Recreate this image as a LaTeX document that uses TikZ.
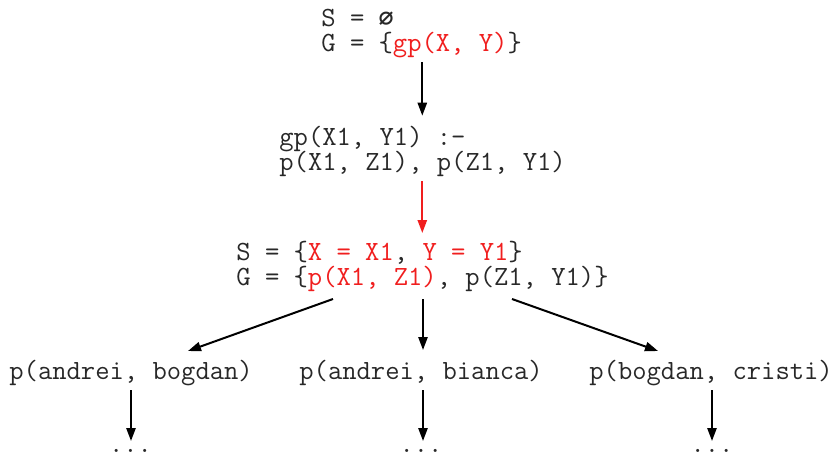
\documentclass[tikz,border=0pt]{standalone}
\usepackage{fontspec}
\newfontfamily\symfont{DejaVu Sans Mono}
\usetikzlibrary{arrows.meta,calc}
\definecolor{txt}{RGB}{40,40,40}
\definecolor{hl}{RGB}{240,30,30}
\begin{document}
\begin{tikzpicture}[x=0.5pt,y=-0.5pt,
  lbl/.style={inner sep=0pt,anchor=base west,text=txt,font=\ttfamily\fontsize{13.9pt}{14pt}\selectfont},
  dots/.style={inner sep=0pt,anchor=base,text=txt,font=\ttfamily\fontsize{13.9pt}{14pt}\selectfont},
  arr/.style={line width=1pt,draw=black,-{Triangle[length=6.5pt,width=4.6pt]}},
  redarr/.style={arr,draw=hl,-{Triangle[length=6.5pt,width=4.6pt,fill=hl]}}]
\useasboundingbox (0,0) rectangle (832,456);
% top goal
\node[lbl] (n1a) at (321,26) {S = {\symfont\bfseries\fontsize{12.5pt}{14pt}\selectfont ∅}};
\node[lbl] (n1b) at (321,51) {G = \{\textcolor{hl}{gp(X, Y)}\}};
% clause
\node[lbl] (n2a) at (279,145) {gp(X1, Y1) :-};
\node[lbl] (n2b) at (279,170) {p(X1, Z1), p(Z1, Y1)};
% resolvent
\node[lbl] (n3a) at (236,260) {S = \{\textcolor{hl}{X = X1}, \textcolor{hl}{Y = Y1}\}};
\node[lbl] (n3b) at (236,285) {G = \{\textcolor{hl}{p(X1, Z1)}, p(Z1, Y1)\}};
% facts
\node[lbl] (nL) at (9,379) {p(andrei, bogdan)};
\node[lbl] (nM) at (299,379) {p(andrei, bianca)};
\node[lbl] (nR) at (589,379) {p(bogdan, cristi)};
% continuation dots
\node[dots] (dL) at (130.5,452) {...};
\node[dots] (dM) at (421,452) {...};
\node[dots] (dR) at (712,452) {...};
% connectors
\draw[arr] ($(n1b.base west)+(101.3,11)$) -- ($(n2a.base west)+(143.3,-29.3)$);
\draw[redarr] ($(n2b.base west)+(143.3,11)$) -- ($(n3a.base west)+(186.3,-27)$);
\draw[arr] ($(n3b.base west)+(97,14)$) -- ($(nL.base west)+(179,-28)$);
\draw[arr] ($(n3b.base west)+(187,14)$) -- ($(nM.base west)+(124,-29)$);
\draw[arr] ($(n3b.base west)+(276,14)$) -- ($(nR.base west)+(69,-28)$);
\draw[arr] ($(nL.base west)+(122,11)$) -- ($(dL.base)+(0.5,-11)$);
\draw[arr] ($(nM.base west)+(124,11)$) -- ($(dM.base)+(2,-11)$);
\draw[arr] ($(nR.base west)+(123,11)$) -- ($(dR.base)+(0,-11)$);
\end{tikzpicture}
\end{document}
